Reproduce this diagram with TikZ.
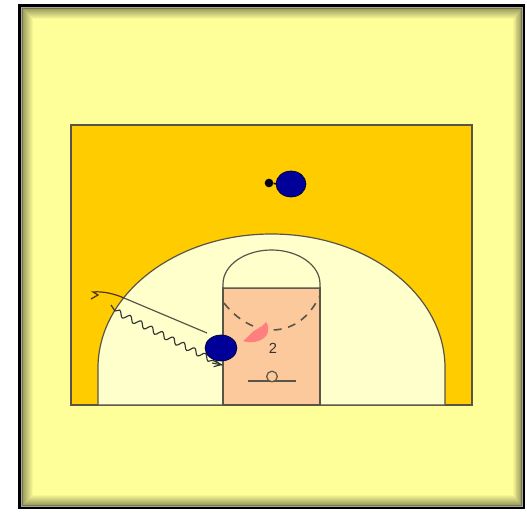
\documentclass[tikz,border=0pt]{standalone}
\usepackage{fontspec}
\setmainfont{Liberation Sans}
\usetikzlibrary{decorations.pathmorphing,arrows.meta,calc}
\definecolor{pagey}{HTML}{FFFF99}
\definecolor{courty}{HTML}{FFCC00}
\definecolor{keyy}{HTML}{FFFFCC}
\definecolor{paintc}{HTML}{FBC99B}
\definecolor{ink}{HTML}{5A5448}
\definecolor{navy2}{HTML}{000099}
\definecolor{pinkb}{HTML}{FF7F7F}
\definecolor{edgeo}{HTML}{77774A}
\tikzset{
  courtline/.style={draw=ink,line width=0.9pt},
  passline/.style={draw=ink,line width=0.9pt},
  dribble/.style={draw=black!80,line width=0.85pt,decorate,decoration={snake,amplitude=2.2pt,segment length=9pt,post length=4pt}},
  hookline/.style={draw=black!60!brown,line width=0.9pt},
  balldot/.style={circle,fill=black!85!navy2,inner sep=0pt,minimum size=6.5pt},
}
\begin{document}
\begin{tikzpicture}[x=0.75pt,y=-0.75pt]
\useasboundingbox (0,0) rectangle (527,516);
\fill[white] (0,0) rectangle (527,516);
% frame
\fill[black] (18,4) rectangle (525,509);
\fill[gray!70] (20.5,7) rectangle (523,507);
\fill[edgeo] (21.5,8) rectangle (522,506);
\foreach \i in {1,...,11}{
  \pgfmathtruncatemacro{\mix}{25+75*\i/11}
  \fill[pagey!\mix!edgeo] (21.5+\i,8+\i) rectangle (522-0.8*\i,506-\i);
}
% court
\fill[courty] (71,125) rectangle (472,405);
\draw[courtline] (71,125) rectangle (472,405);
\draw[courtline,fill=keyy] (98,405) -- (98,368) arc[start angle=180,end angle=360,x radius=173.5,y radius=134] -- (445,405) -- cycle;
\draw[courtline,fill=paintc] (223,288) rectangle (320,405);
\draw[courtline,fill=keyy] (223,288) -- (223,284) arc[start angle=180,end angle=360,x radius=48.5,y radius=34] -- (320,288) -- cycle;
% free-throw dashed arc
\draw[draw=ink,line width=1.2pt,dash pattern=on 6pt off 5pt] (224,303) .. controls (240,324) and (262,331) .. (272,330) .. controls (290,330) and (308,320) .. (319,297);
% pink blob
\fill[pinkb] (243,341) .. controls (249,337) and (251,332) .. (257,329) .. controls (261,328) and (263,325) .. (266,322) .. controls (269,326) and (269,332) .. (266,336) .. controls (260,343) and (249,343) .. (243,341) -- cycle;
\node[text=black!80,font=\fontsize{11pt}{13pt}\selectfont,inner sep=0pt] (num) at (273,348) {2};
% hoop
\coordinate (bl) at (248,381);
\coordinate (br) at (296,381);
\draw[courtline] (bl) -- (br);
\node[circle,draw=ink,line width=0.9pt,fill=paintc,minimum size=8pt,inner sep=0pt] (hoop) at (272,376.5) {};
% players
\node[balldot] (ball) at (269,183) {};
\draw[black,line width=1.2pt] (ball) -- (279,184);
\path[fill=navy2,draw=black!70!navy2,line width=0.5pt] (291,184) ellipse[x radius=15,y radius=13];
\coordinate (p1) at (221,348);
\path[fill=navy2,draw=black!70!navy2,line width=0.5pt] (p1) ellipse[x radius=16,y radius=13];
\coordinate (pstart) at (207,333);
\coordinate (pmid) at (124,298);
\draw[passline] (pstart) -- (pmid);
\draw[hookline] (pmid) .. controls (115,294) and (103,291) .. (93,292) -- (98,295) -- (91,299);
\coordinate (ds) at (115,311);
\coordinate (de) at (222,365);
\draw[dribble] (ds) -- (de);
\draw[draw=black!80,line width=0.85pt] (ds) -- (111,305);
\draw[draw=black!80,line width=0.85pt,-{Straight Barb[length=5pt,width=5pt]}] (212,363) -- (de);
\end{tikzpicture}
\end{document}
